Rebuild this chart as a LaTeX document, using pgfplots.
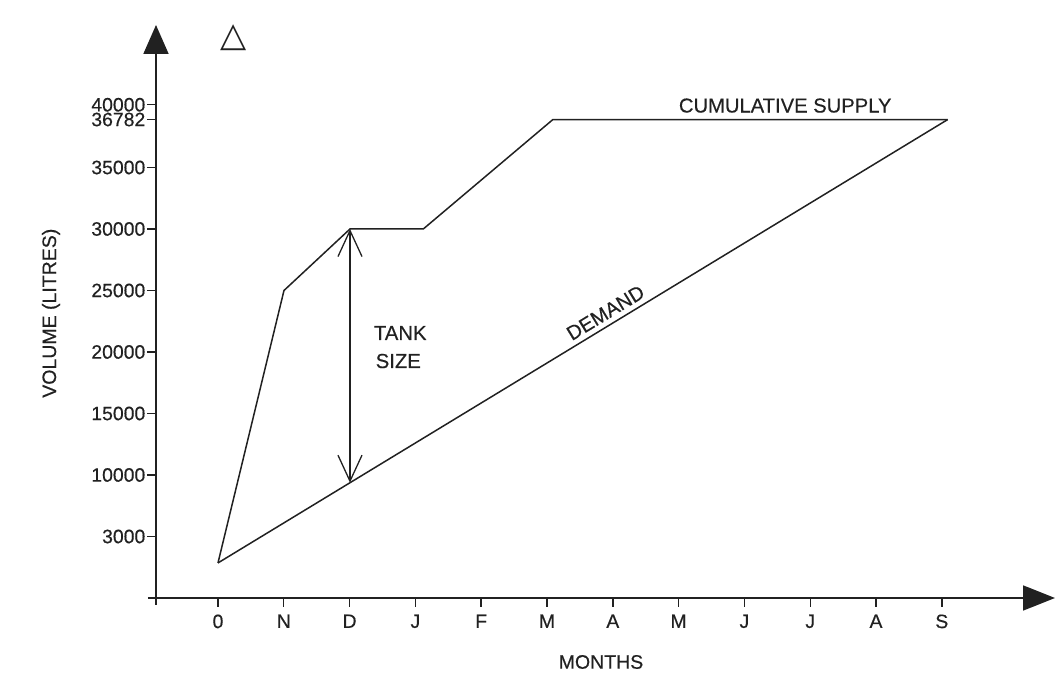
\documentclass[border=0pt]{standalone}
\usepackage{fontspec}
\setmainfont{Liberation Sans}[FakeBold=0.4]
\newfontfamily\djv{DejaVu Sans}
\usepackage{pgfplots}
\pgfplotsset{compat=1.18}
\usetikzlibrary{arrows.meta}
\definecolor{ink}{gray}{0.13}
\begin{document}
\begin{tikzpicture}
\useasboundingbox (-156pt,-84pt) rectangle (905pt,598pt);
\begin{axis}[
 scale only axis, width=899pt, height=573pt,
 xmin=-0.942, xmax=12.72, ymin=0, ymax=46585,
 axis lines=left,
 scaled y ticks=false, scaled x ticks=false,
 axis line style={line width=1.8pt, draw=ink},
 x axis line style={-{Triangle[length=32pt,width=25pt]}, shorten <=-8pt},
 y axis line style={-{Triangle[length=29pt,width=25pt]}, shorten <=-7pt},
 tick align=outside, major tick length=9pt, tick style={line width=1.4pt, draw=ink},
 xtick={0,...,11}, xticklabels={0,N,D,J,F,M,A,M,J,J,A,S},
 ytick={5000,10000,15000,20000,25000,30000,35000,38900,40100},
 yticklabels={3000,10000,15000,20000,25000,30000,35000,36782,40000},
 ticklabel style={font=\fontsize{19.4}{21}\selectfont, text=ink},
 xticklabel style={yshift=-4pt},
 yticklabel style={inner sep=1.5pt},
 /pgf/number format/assume math mode=true,
 xlabel={MONTHS}, ylabel={VOLUME (LITRES)},
 label style={font=\fontsize{19.5}{22}\selectfont, text=ink},
 xlabel style={at={(axis description cs:0.495,-0.1117)}, anchor=center},
 ylabel style={at={(axis description cs:-0.1168,0.497)}, anchor=center},
 clip=false,
]
\addplot[ink, line width=1.5pt] coordinates {(0,2850) (1.003,25000) (2.006,30000) (3.12,30000) (5.09,38900) (11.09,38900)};
\addplot[ink, line width=1.5pt] coordinates {(0,2850) (11.09,38900)}
  node[pos=0.54, sloped, above, inner sep=5pt, font=\fontsize{20}{22}\selectfont, text=ink] {DEMAND};
\addplot[ink, line width=1.3pt, {Straight Barb[length=26pt,width=24pt]}-{Straight Barb[length=26pt,width=24pt]}] coordinates {(2.006,9371) (2.006,30000)};
\node[anchor=base, font=\fontsize{20.3}{22}\selectfont, text=ink] at (axis cs:2.77,20976) {TANK};
\node[anchor=base, font=\fontsize{20.3}{22}\selectfont, text=ink] at (axis cs:2.74,18699) {SIZE};
\node[anchor=base, yshift=7pt, font=\fontsize{20.2}{22}\selectfont, text=ink] at (axis cs:8.62,38900) {CUMULATIVE SUPPLY};
\node[font=\djv\fontsize{34}{34}\selectfont, text=ink] at (axis cs:0.236,45528) {△};
\end{axis}
\end{tikzpicture}
\end{document}
